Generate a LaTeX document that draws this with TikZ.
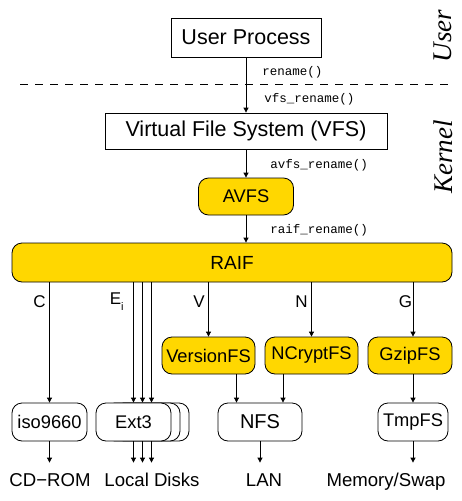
\documentclass[tikz,border=0pt]{standalone}
\usepackage{fontspec}
\setmainfont{Liberation Sans}
\setmonofont{Liberation Mono}
\newfontfamily\timesit{Liberation Serif}
\usetikzlibrary{arrows.meta}
\definecolor{gold}{RGB}{255,215,0}

\begin{document}
\begin{tikzpicture}[x=1pt,y=-1pt,line width=0.8pt,>={Triangle[length=5pt,width=5pt]}]
\tikzstyle{every node}+=[inner sep=0pt]
\tikzstyle{plain}=[draw=black,minimum height=38pt,font=\fontsize{21.5}{21.5}\selectfont]
\tikzstyle{fs}=[draw=black,rounded corners=10pt,minimum height=38pt,font=\fontsize{18.3}{18.3}\selectfont]
\tikzstyle{layer}=[fs,fill=gold]
\tikzstyle{lower}=[fs,fill=white]
\tikzstyle{call}=[anchor=west,font=\ttfamily\fontsize{12.5}{12.5}\selectfont]
\tikzstyle{media}=[anchor=base,text height=13pt,text depth=4pt,inner ysep=10pt,font=\fontsize{18.6}{18.6}\selectfont]
\tikzstyle{branch}=[font=\fontsize{17}{17}\selectfont]
\tikzstyle{side}=[rotate=90,font=\timesit\itshape\fontsize{27}{27}\selectfont]
\useasboundingbox (0,0) rectangle (462,501);
% user space and kernel
\node[plain,minimum width=150pt,minimum height=39pt] (user) at (246,37.5) {User Process};
\coordinate (sepl) at (20,84.3);
\coordinate (sepr) at (450,84.3);
\draw [black,dash pattern=on 8pt off 7pt] (sepl) -- (sepr);
\node[side] (userside) at (443,36) {User};
\node[side] (kernelside) at (443,157) {Kernel};
\node[plain,minimum width=282pt,minimum height=36pt] (vfs) at (246,131) {Virtual File System (VFS)};
\node[layer,minimum width=95pt,minimum height=37pt] (avfs) at (246,196.5) {AVFS};
\node[layer,minimum width=440pt,minimum height=39pt,font=\fontsize{19}{19}\selectfont] (raif) at (232,262.5) {RAIF};
\draw [black,->] (user) -- (vfs);
\node[call] (rename) at (262,72) {rename()};
\node[call] (vfsrename) at (264,99) {vfs\_rename()};
\draw [black,->] (vfs) -- (avfs);
\node[call] (avfsrename) at (270,165) {avfs\_rename()};
\draw [black,->] (avfs) -- (avfs |- raif.north);
\node[call] (raifrename) at (270,230) {raif\_rename()};
% stackable file systems
\node[layer,minimum width=93pt,minimum height=37pt] (version) at (208.5,355.5) {VersionFS};
\node[layer,minimum width=93pt,minimum height=37pt] (ncrypt) at (311.5,355.5) {NCryptFS};
\node[layer,minimum width=84pt,minimum height=37pt] (gzip) at (410,355.5) {GzipFS};
% lower file systems
\node[lower,minimum width=75pt] (iso) at (49.5,422) {iso9660};
\node[lower,minimum width=75pt] (ext3c) at (151.5,422) {};
\node[lower,minimum width=75pt] (ext3b) at (142.5,422) {};
\node[lower,minimum width=75pt] (ext3) at (133.5,422) {Ext3};
\node[lower,minimum width=84pt,font=\fontsize{20}{20}\selectfont] (nfs) at (260,422) {NFS};
\node[lower,minimum width=70pt] (tmpfs) at (413,422) {TmpFS};
% devices
\node[media] (cdrom) at (50,486) {CD−ROM};
\node[media] (disks) at (152,486) {Local Disks};
\node[media] (lan) at (264,486) {LAN};
\node[media] (mem) at (386,486) {Memory/Swap};
% branches of RAIF
\draw [black,->] (iso |- raif.south) -- (iso.north);
\node[branch] (cbranch) at (39.5,302) {C};
\draw [black,->] (ext3 |- raif.south) -- (ext3.north);
\draw [black,->] (ext3b |- raif.south) -- (ext3b.north);
\draw [black,->] (ext3c |- raif.south) -- (ext3c.north);
\node[branch,anchor=west] (ebranch) at (109.5,302) {E\raisebox{-6pt}{\fontsize{11}{11}\selectfont i}};
\draw [black,->] (version |- raif.south) -- (version.north);
\node[branch] (vbranch) at (199,302) {V};
\draw [black,->] (ncrypt |- raif.south) -- (ncrypt.north);
\node[branch] (nbranch) at (301.5,302) {N};
\draw [black,->] (tmpfs |- raif.south) -- (tmpfs |- gzip.north);
\node[branch] (gbranch) at (405.5,302) {G};
\draw [black,->] ([xshift=28pt]version.south) -- ([xshift=28pt]version.south |- nfs.north);
\draw [black,->] ([xshift=-28.5pt]ncrypt.south) -- ([xshift=-28.5pt]ncrypt.south |- nfs.north);
\draw [black,->] (tmpfs |- gzip.south) -- (tmpfs.north);
% down to the devices
\draw [black,->] (iso.south) -- (iso |- cdrom.north);
\draw [black,->] (ext3.south) -- (ext3 |- disks.north);
\draw [black,->] (ext3b.south) -- (ext3b |- disks.north);
\draw [black,->] (ext3c.south) -- (ext3c |- disks.north);
\draw [black,->] (nfs.south) -- (nfs |- lan.north);
\draw [black,->] (tmpfs.south) -- (tmpfs |- mem.north);
\end{tikzpicture}
\end{document}
